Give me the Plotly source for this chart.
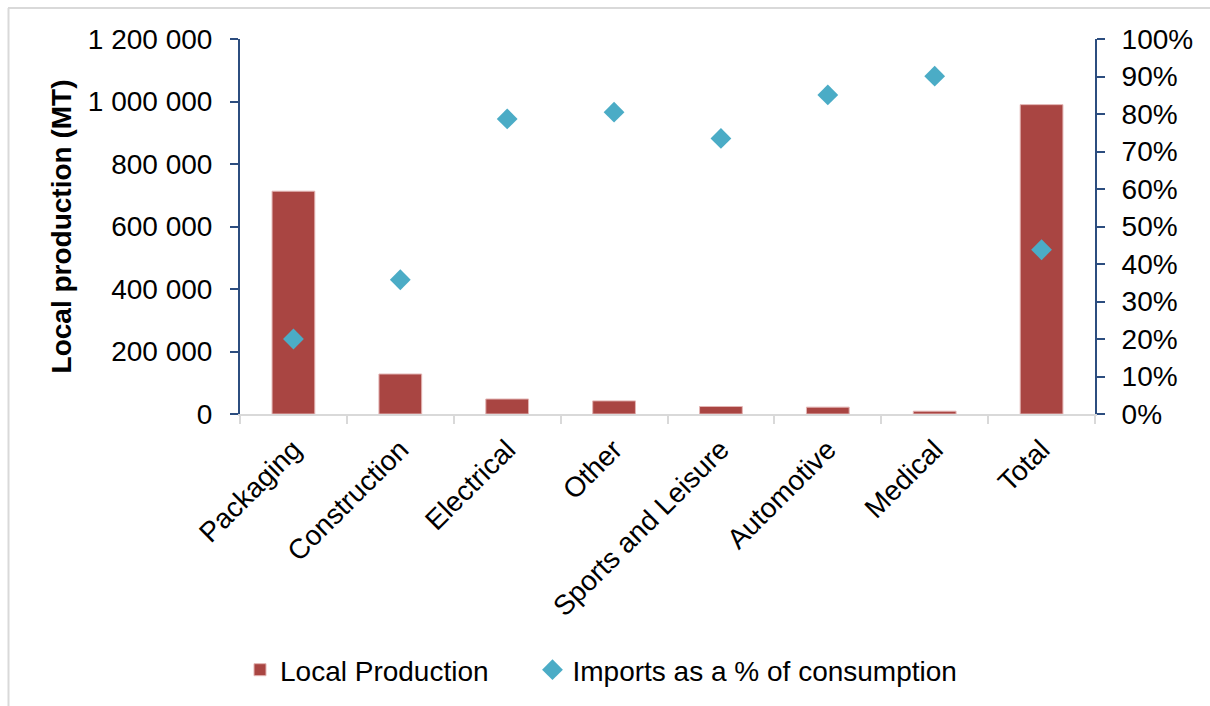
import plotly.graph_objects as go

categories = ["Packaging", "Construction", "Electrical", "Other", "Sports and Leisure",
              "Automotive", "Medical", "Total"]
local_production = [713000, 128000, 48000, 42000, 24000, 22000, 9000, 990000]
imports_pct = [20.0, 35.8, 78.7, 80.5, 73.5, 85.1, 90.1, 43.8]
series_names = ["Local Production", "Imports as a % of consumption"]

FONT = "Liberation Sans, Arial, sans-serif"
AXIS_BLUE = "#2C4D7F"
GRAY = "#D9D9D9"

# plot-area geometry in pixels (for shape placement)
L, R, T, B = 240, 1095, 39, 414
W, H = R - L, B - T

fig = go.Figure()
fig.add_trace(go.Bar(
    x=categories, y=local_production, name=series_names[0] + "\u00a0" * 5,
    marker=dict(color="#A94542", line=dict(color="#E3B5B4", width=1)),
    yaxis="y",
))
fig.add_trace(go.Scatter(
    x=categories, y=imports_pct, name=series_names[1],
    mode="markers", marker=dict(symbol="diamond", size=16, color="#4BACC6"),
    yaxis="y2",
))

fig.update_layout(
    width=1210, height=706,
    margin=dict(l=L, r=1210 - R, t=T, b=706 - B, autoexpand=False),
    paper_bgcolor="white", plot_bgcolor="white",
    font=dict(family=FONT, size=28, color="black"),
    separators=". ",
    bargap=0.6,
    showlegend=True,
    legend=dict(orientation="h", x=(240 - L) / W, xanchor="left", y=(B - 670) / H, yanchor="middle",
                font=dict(size=28), traceorder="normal"),
    xaxis=dict(
        showline=True, linecolor=GRAY, linewidth=2,
        ticks="outside", tickson="boundaries", tickcolor=GRAY, ticklen=8, tickwidth=2,
        tickangle=-45, ticklabelstandoff=6, showgrid=False,
        tickfont=dict(size=28),
    ),
    yaxis=dict(
        range=[0, 1200000], dtick=200000, tickformat=",.0f",
        showline=True, linecolor=AXIS_BLUE, linewidth=2,
        ticks="outside", tickcolor=AXIS_BLUE, ticklen=8, tickwidth=2,
        ticklabelstandoff=12, showgrid=False, zeroline=False,
        title=dict(text="<b>Local production (MT)</b>", font=dict(size=28), standoff=8),
    ),
    yaxis2=dict(
        range=[0, 100], dtick=10, ticksuffix="%", overlaying="y", side="right",
        showline=True, linecolor=AXIS_BLUE, linewidth=2,
        ticks="outside", tickcolor=AXIS_BLUE, ticklen=8, tickwidth=2,
        ticklabelstandoff=11, showgrid=False, zeroline=False,
    ),
    shapes=[
        dict(type="line", xref="paper", yref="paper",
             x0=(8 - L) / W, x1=(1215 - L) / W, y0=(B - 8) / H, y1=(B - 8) / H,
             line=dict(color=GRAY, width=2)),
        dict(type="line", xref="paper", yref="paper",
             x0=(8.5 - L) / W, x1=(8.5 - L) / W, y0=(B - 8) / H, y1=(B - 720) / H,
             line=dict(color=GRAY, width=2)),
    ],
)

fig.write_html("out.html")
